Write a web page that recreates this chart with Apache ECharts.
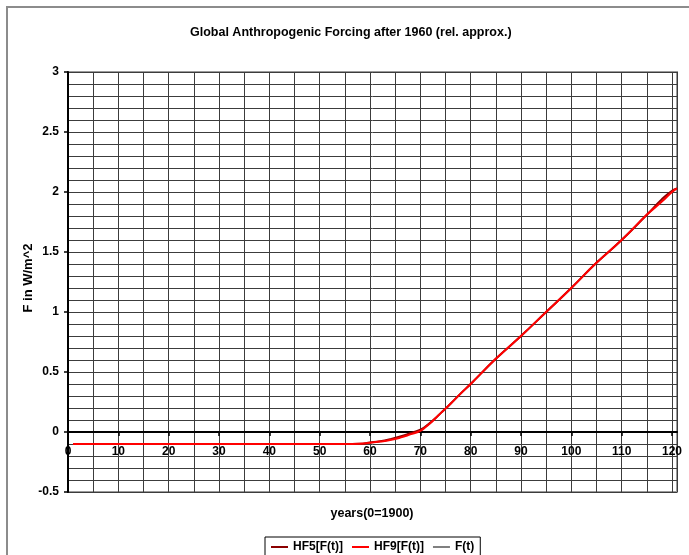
<!DOCTYPE html>
<html>
<head>
<meta charset="utf-8">
<script src="https://cdn.jsdelivr.net/npm/echarts@6/dist/echarts.min.js"></script>
<style>
html,body{margin:0;padding:0;background:#fff;}
#chart{width:689px;height:555px;}
</style>
</head>
<body>
<div id="chart"></div>
<script>
var titleText = 'Global Anthropogenic Forcing after 1960 (rel. approx.)';
var xTitle = 'years(0=1900)';
var yTitle = 'F in W/m^2';
var seriesNames = ['HF5[F(t)]', 'HF9[F(t)]', 'F(t)'];
var xTickValues = [0, 10, 20, 30, 40, 50, 60, 70, 80, 90, 100, 110, 120];
var yTickValues = [-0.5, 0, 0.5, 1, 1.5, 2, 2.5, 3];

var years = [1, 5, 10, 15, 20, 25, 30, 35, 40, 45, 50, 55, 58, 60, 62, 64, 66, 68, 70, 71, 72, 73, 74, 75, 76, 78, 80, 85, 90, 95, 100, 105, 110, 115, 118, 120, 121];
var hf9 = [-0.1, -0.1, -0.1, -0.1, -0.1, -0.1, -0.1, -0.1, -0.1, -0.1, -0.1, -0.1, -0.098, -0.09, -0.08, -0.067, -0.047, -0.02, 0.01, 0.04, 0.075, 0.115, 0.155, 0.195, 0.235, 0.32, 0.40, 0.61, 0.80, 1.0, 1.2, 1.41, 1.6, 1.81, 1.92, 2.0, 2.03];
var hf5 = [-0.1, -0.1, -0.1, -0.1, -0.1, -0.1, -0.1, -0.1, -0.1, -0.1, -0.1, -0.1, -0.098, -0.088, -0.077, -0.06, -0.038, -0.01, 0.02, 0.045, 0.078, 0.115, 0.155, 0.195, 0.235, 0.32, 0.40, 0.61, 0.80, 1.0, 1.2, 1.41, 1.6, 1.81, 1.94, 2.01, 2.03];
var ft = [-0.1, -0.1, -0.1, -0.1, -0.1, -0.1, -0.1, -0.1, -0.1, -0.1, -0.1, -0.1, -0.098, -0.09, -0.08, -0.067, -0.047, -0.02, 0.01, 0.04, 0.075, 0.115, 0.155, 0.195, 0.235, 0.32, 0.40, 0.61, 0.80, 1.0, 1.2, 1.41, 1.6, 1.81, 1.92, 2.0, 2.03];

function pairs(xs, ys) {
  var out = [];
  for (var i = 0; i < xs.length; i++) out.push([xs[i], ys[i]]);
  return out;
}

var FONT = '"Liberation Sans", Arial, sans-serif';
var LBL = {fontFamily: FONT, fontSize: 12, fontWeight: 'bold', color: '#000'};
var chart = echarts.init(document.getElementById('chart'), null, {renderer: 'canvas'});
chart.setOption({
  animation: false,
  backgroundColor: '#fff',
  title: {
    text: titleText,
    left: 185,
    top: 21,
    textStyle: {fontFamily: FONT, fontSize: 12.5, fontWeight: 'bold', color: '#000'}
  },
  graphic: [
    {type: 'rect', shape: {x: 7, y: 7, width: 720, height: 620}, style: {fill: 'none', stroke: '#8c8c8c', lineWidth: 2}, z: -10},
    {type: 'text', x: 372, y: 514, style: {text: xTitle, font: 'bold 12.5px ' + FONT, fill: '#000', textAlign: 'center', textVerticalAlign: 'middle'}},
    {type: 'text', x: 28, y: 278, rotation: Math.PI / 2, style: {text: yTitle, font: 'bold 13px ' + FONT, fill: '#000', textAlign: 'center', textVerticalAlign: 'middle'}}
  ],
  legend: {
    data: seriesNames,
    left: 265,
    top: 537,
    icon: 'rect',
    itemWidth: 17,
    itemHeight: 2,
    itemGap: 9,
    padding: [4, 6, 4, 6],
    borderColor: '#000',
    borderWidth: 1,
    textStyle: LBL
  },
  grid: {
    left: 68, top: 72, width: 609, height: 420,
    show: true, borderColor: '#9a9a9a', borderWidth: 2, backgroundColor: '#fff'
  },
  xAxis: [
    {
      type: 'value', min: 0, max: 121, interval: 5, position: 'bottom',
      axisLine: {show: true, onZero: true, lineStyle: {color: '#000', width: 2}},
      axisTick: {show: false},
      axisLabel: {show: false},
      splitLine: {show: true, lineStyle: {color: '#3c3c3c', width: 1}}
    },
    {
      type: 'value', min: 0, max: 121, position: 'bottom', offset: -60,
      axisLine: {show: false, onZero: false},
      axisTick: {show: true, customValues: xTickValues, length: 4, lineStyle: {color: '#000', width: 1.5}},
      axisLabel: {show: true, customValues: xTickValues, margin: 14, fontFamily: FONT, fontSize: 12, fontWeight: 'bold', color: '#000'},
      splitLine: {show: false}
    }
  ],
  yAxis: [
    {
      type: 'value', min: -0.5, max: 3, interval: 0.1, position: 'left',
      axisLine: {show: false, onZero: false},
      axisTick: {show: false},
      axisLabel: {show: false},
      splitLine: {show: true, lineStyle: {color: '#3c3c3c', width: 1}}
    },
    {
      type: 'value', min: -0.5, max: 3, interval: 0.5, position: 'left',
      axisLine: {show: true, onZero: false, lineStyle: {color: '#000', width: 2}},
      axisTick: {show: true, length: 4, lineStyle: {color: '#000', width: 1.5}},
      axisLabel: {show: true, margin: 9, fontFamily: FONT, fontSize: 12, fontWeight: 'bold', color: '#000'},
      splitLine: {show: false}
    }
  ],
  series: [
    {name: seriesNames[2], type: 'line', xAxisIndex: 0, yAxisIndex: 0, data: pairs(years, ft), showSymbol: false, symbol: 'none', lineStyle: {color: '#808080', width: 1}, itemStyle: {color: '#808080'}, z: 3},
    {name: seriesNames[0], type: 'line', xAxisIndex: 0, yAxisIndex: 0, data: pairs(years, hf5), showSymbol: false, symbol: 'none', smooth: true, lineStyle: {color: '#8b0000', width: 2}, itemStyle: {color: '#8b0000'}, z: 4},
    {name: seriesNames[1], type: 'line', xAxisIndex: 0, yAxisIndex: 0, data: pairs(years, hf9), showSymbol: false, symbol: 'none', smooth: true, lineStyle: {color: '#ff0000', width: 2}, itemStyle: {color: '#ff0000'}, z: 5}
  ]
});
</script>
</body>
</html>
